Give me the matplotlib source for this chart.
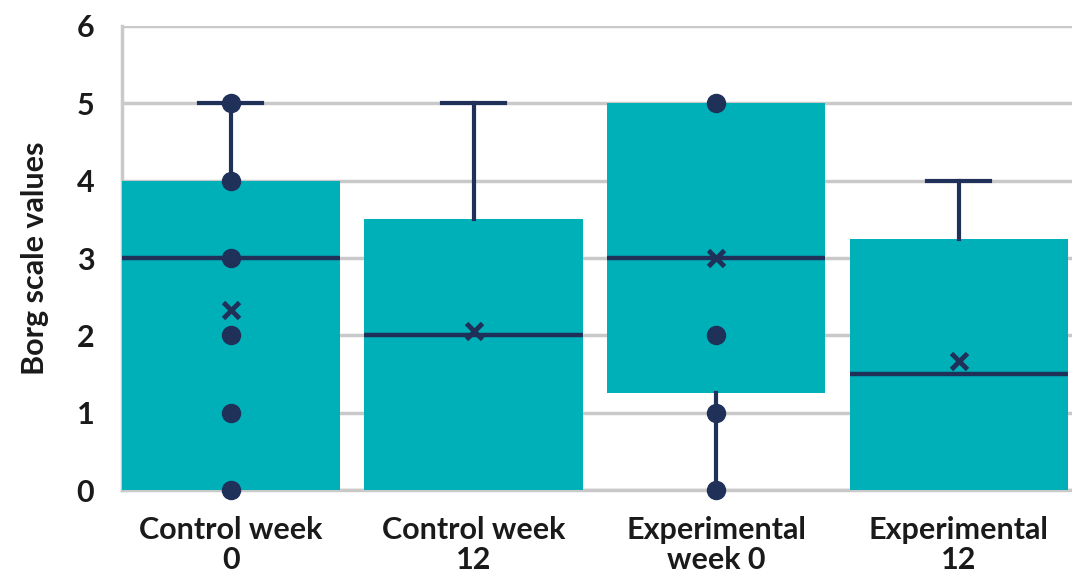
import matplotlib.pyplot as plt

# Borg scale box plot, four groups
groups = ["Control week\n0", "Control week\n12", "Experimental\nweek 0", "Experimental\n12"]
q1 = [0, 0, 1.25, 0]
q3 = [4, 3.5, 5, 3.25]
medians = [3, 2, 3, 1.5]
means = [2.33, 2.05, 3.0, 1.67]
whisker_low = [0, 0, 0, 0]
whisker_high = [5, 5, 5, 4]
points = [[0, 1, 2, 3, 4, 5], [], [0, 1, 2, 5], []]

teal = "#00B0B9"
navy = "#1F3059"
grid_col = "#C9C9C9"
txt = "#1a1a1a"

plt.rcParams['font.family'] = ['Lato', 'DejaVu Sans']
plt.rcParams['font.weight'] = 'bold'

fig = plt.figure(figsize=(10.72, 5.75), dpi=100)
ax = fig.add_axes([0.1138, 0.1478, 0.8862, 0.807])

stats = []
for i, g in enumerate(groups):
    stats.append({
        "label": g,
        "q1": q1[i], "q3": q3[i], "med": medians[i], "mean": means[i],
        "whislo": whisker_low[i], "whishi": whisker_high[i], "fliers": [],
    })

pos = list(range(1, len(groups) + 1))
parts = ax.bxp(stats, positions=pos, widths=0.9, capwidths=0.26, patch_artist=True,
               showmeans=True, showfliers=False,
               boxprops=dict(facecolor=teal, edgecolor="none", linewidth=0),
               medianprops=dict(color=navy, linewidth=3.2),
               whiskerprops=dict(color=navy, linewidth=3),
               capprops=dict(color=navy, linewidth=3),
               meanprops=dict(marker="x", markeredgecolor=navy, markersize=12, markeredgewidth=3.5),
               zorder=3)

# excel only shows a cap where the whisker sticks out past the box, and none at the floor
caps = parts["caps"]
for i in range(len(groups)):
    caps[2 * i].set_visible(False)
    if whisker_high[i] <= q3[i]:
        caps[2 * i + 1].set_visible(False)

for i, pts in enumerate(points):
    if pts:
        ax.plot([pos[i]] * len(pts), pts, "o", color=navy, markersize=13, zorder=5, clip_on=False)

ax.set_ylim(0, 6)
ax.set_xlim(0.551, 4.466)
ax.set_yticks(range(0, 7))
ax.yaxis.grid(True, color=grid_col, linewidth=2.5, zorder=0)
ax.set_axisbelow(True)
ax.tick_params(length=0, labelsize=22, colors=txt)
ax.tick_params(axis="y", pad=20)
ax.tick_params(axis="x", pad=19)
for lab in ax.get_xticklabels() + ax.get_yticklabels():
    lab.set_fontweight("bold")
    lab.set_linespacing(1.05)
ax.set_ylabel("Borg scale values", fontsize=22, fontweight="bold", color=txt, labelpad=20)

for s in ["top", "right"]:
    ax.spines[s].set_visible(False)
ax.spines["left"].set_color(grid_col)
ax.spines["left"].set_linewidth(2.5)
ax.spines["bottom"].set_color(grid_col)
ax.spines["bottom"].set_linewidth(2.5)

fig.savefig("out.png", dpi=100)
